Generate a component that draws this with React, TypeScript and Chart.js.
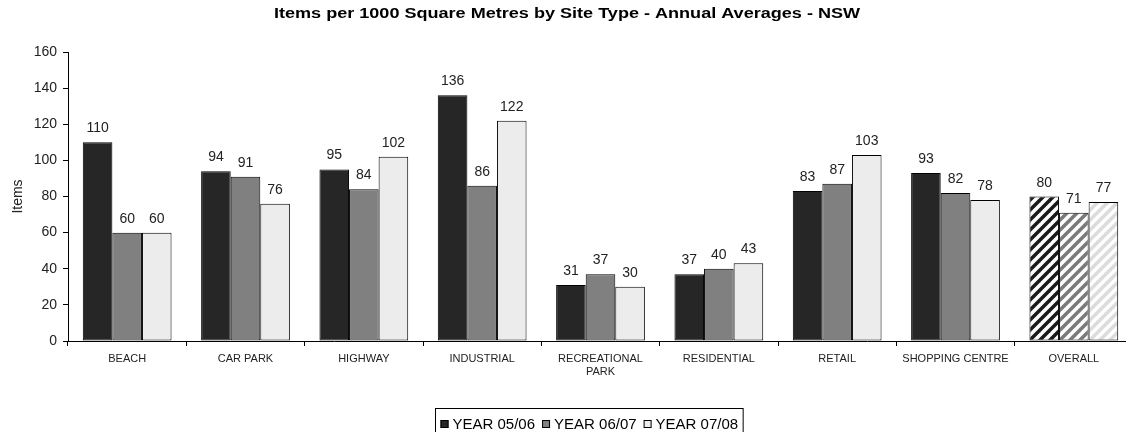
import React, { useEffect, useRef } from "react";
import { Chart, registerables } from "chart.js";

Chart.register(...registerables);

const TITLE = "Items per 1000 Square Metres by Site Type - Annual Averages - NSW";
const Y_TITLE = "Items";
const CATEGORIES: (string | string[])[] = [
  "BEACH",
  "CAR PARK",
  "HIGHWAY",
  "INDUSTRIAL",
  ["RECREATIONAL", "PARK"],
  "RESIDENTIAL",
  "RETAIL",
  "SHOPPING CENTRE",
  "OVERALL",
];
const SERIES_LABELS = ["YEAR 05/06", "YEAR 06/07", "YEAR 07/08"];
const YEAR_0506 = [110, 94, 95, 136, 31, 37, 83, 93, 80];
const YEAR_0607 = [60, 91, 84, 86, 37, 40, 87, 82, 71];
const YEAR_0708 = [60, 76, 102, 122, 30, 43, 103, 78, 77];
const SERIES_COLORS = ["#262626", "#808080", "#ececec"];
const STRIPE_COLORS = ["#1a1a1a", "#7a7a7a", "#dcdcdc"];
const HATCHED_INDEX = 8;
const Y_MIN = 0;
const Y_MAX = 160;
const Y_STEP = 20;

const FONT = "'Liberation Sans', Arial, sans-serif";

function makePattern(color: string): CanvasPattern | string {
  const size = 10;
  const c = document.createElement("canvas");
  c.width = size;
  c.height = size;
  const g = c.getContext("2d");
  if (!g) return color;
  g.fillStyle = "#ffffff";
  g.fillRect(0, 0, size, size);
  g.strokeStyle = color;
  g.lineWidth = 3.5;
  g.lineCap = "square";
  for (const off of [-size, 0, size]) {
    g.beginPath();
    g.moveTo(off, size);
    g.lineTo(off + size, 0);
    g.stroke();
  }
  const p = g.createPattern(c, "repeat");
  return p || color;
}

const titlePlugin = {
  id: "wideTitle",
  afterDraw(chart: any) {
    const ctx = chart.ctx;
    ctx.save();
    ctx.font = `bold 14px ${FONT}`;
    ctx.fillStyle = "#000";
    ctx.textAlign = "center";
    ctx.textBaseline = "middle";
    ctx.translate(567, 14.5);
    ctx.scale(1.29, 1);
    ctx.fillText(TITLE, 0, 0);
    ctx.restore();
  },
};

const dataLabelPlugin = {
  id: "dataLabels",
  afterDatasetsDraw(chart: any) {
    const ctx = chart.ctx;
    ctx.save();
    ctx.font = `14px ${FONT}`;
    ctx.fillStyle = "#222";
    ctx.textAlign = "center";
    ctx.textBaseline = "alphabetic";
    chart.data.datasets.forEach((ds: any, di: number) => {
      const meta = chart.getDatasetMeta(di);
      meta.data.forEach((bar: any, i: number) => {
        ctx.fillText(String(ds.data[i]), bar.x, bar.y - 10);
      });
    });
    ctx.restore();
  },
};

const legendPlugin = {
  id: "customLegend",
  afterDraw(chart: any) {
    const ctx = chart.ctx;
    ctx.save();
    ctx.font = `15px ${FONT}`;
    const boxSize = 8;
    const gapBoxText = 4;
    const gapItems = 7;
    const padX = 5;
    const widths = SERIES_LABELS.map((l) => ctx.measureText(l).width);
    let total = padX * 2;
    widths.forEach((w, i) => {
      total += boxSize + gapBoxText + w + (i < widths.length - 1 ? gapItems : 0);
    });
    const cx = 589;
    const left = Math.round(cx - total / 2) + 0.5;
    const top = 408.5;
    const h = 30;
    ctx.strokeStyle = "#000";
    ctx.lineWidth = 1;
    ctx.strokeRect(left, top, total, h);
    let x = left + padX;
    const cy = 425;
    SERIES_LABELS.forEach((label, i) => {
      ctx.fillStyle = SERIES_COLORS[i];
      ctx.fillRect(x, cy - boxSize / 2 - 1, boxSize, boxSize);
      ctx.strokeStyle = "#000";
      ctx.strokeRect(x + 0.5, cy - boxSize / 2 - 0.5, boxSize - 1, boxSize - 1);
      x += boxSize + gapBoxText;
      ctx.fillStyle = "#000";
      ctx.textAlign = "left";
      ctx.textBaseline = "middle";
      ctx.fillText(label, x, cy);
      x += widths[i] + gapItems;
    });
    ctx.restore();
  },
};

export default function App() {
  const canvasRef = useRef<HTMLCanvasElement | null>(null);

  useEffect(() => {
    const canvas = canvasRef.current;
    if (!canvas) return;
    const seriesData = [YEAR_0506, YEAR_0607, YEAR_0708];
    const patterns = STRIPE_COLORS.map((c) => makePattern(c));
    const chart = new Chart(canvas, {
      type: "bar",
      data: {
        labels: CATEGORIES,
        datasets: seriesData.map((d, si) => ({
          label: SERIES_LABELS[si],
          data: d,
          backgroundColor: (ctx: any) =>
            ctx.dataIndex === HATCHED_INDEX ? patterns[si] : SERIES_COLORS[si],
          borderColor: "#000",
          borderWidth: 1,
          borderSkipped: false,
          categoryPercentage: 0.75,
          barPercentage: 1,
        })),
      },
      options: {
        animation: false,
        responsive: false,
        devicePixelRatio: 1,
        layout: { padding: { top: 52, left: 0, right: 7, bottom: 0 } },
        plugins: {
          legend: { display: false },
          tooltip: { enabled: false },
          title: { display: false },
        },
        scales: {
          x: {
            grid: {
              offset: true,
              drawOnChartArea: false,
              drawTicks: true,
              tickLength: 5,
              color: "#000",
            },
            border: { color: "#000", width: 1 },
            ticks: {
              color: "#222",
              font: { family: FONT, size: 11 },
              padding: 6,
              maxRotation: 0,
              autoSkip: false,
            },
            afterFit(scale: any) {
              scale.height = 91;
            },
          },
          y: {
            min: Y_MIN,
            max: Y_MAX,
            grid: {
              drawOnChartArea: false,
              drawTicks: true,
              tickLength: 5,
              color: "#000",
            },
            border: { color: "#000", width: 1 },
            ticks: {
              stepSize: Y_STEP,
              color: "#222",
              font: { family: FONT, size: 14 },
              padding: 6,
            },
            title: {
              display: true,
              text: Y_TITLE,
              color: "#222",
              font: { family: FONT, size: 14 },
              padding: { top: 10, bottom: 0 },
            },
            afterFit(scale: any) {
              scale.width = 68;
            },
          },
        },
      },
      plugins: [dataLabelPlugin, legendPlugin, titlePlugin],
    } as any);
    return () => chart.destroy();
  }, []);

  return (
    <div
      style={{
        position: "fixed",
        left: 0,
        top: 0,
        width: 1126,
        height: 432,
        overflow: "hidden",
        background: "#fff",
      }}
    >
      <canvas
        ref={canvasRef}
        width={1140}
        height={432}
        style={{ width: 1140, height: 432, display: "block" }}
      />
    </div>
  );
}
